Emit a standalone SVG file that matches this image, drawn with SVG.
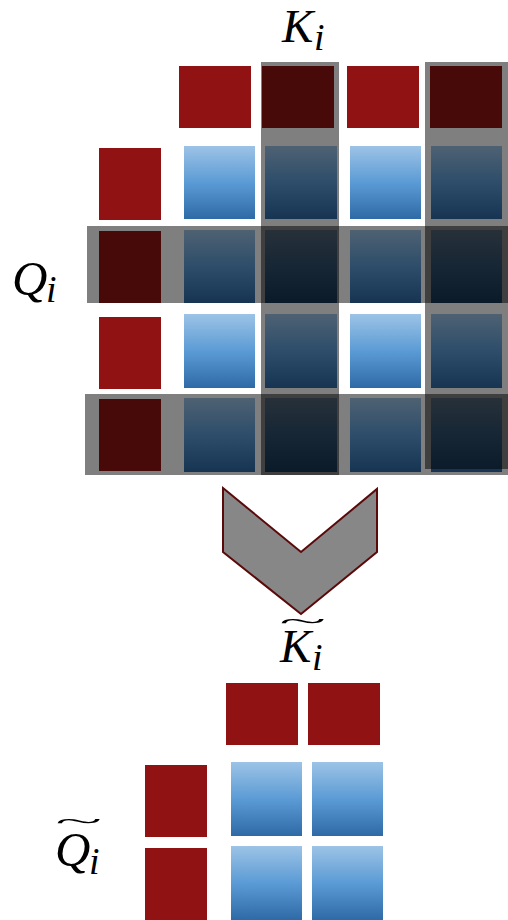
<svg xmlns="http://www.w3.org/2000/svg" width="508" height="920" viewBox="0 0 508 920">
<defs>
<linearGradient id="bl" x1="0" y1="0" x2="0" y2="1">
<stop offset="0" stop-color="#9dc3e6"/>
<stop offset="0.5" stop-color="#5b9bd5"/>
<stop offset="1" stop-color="#2e6aa6"/>
</linearGradient>
<style>
.r{fill:#911213}
.b{fill:url(#bl)}
.ov{fill:#000;fill-opacity:0.5}
.m{font-family:"Liberation Serif","DejaVu Serif",serif;font-style:italic;fill:#000}
.ar{fill:#878787;stroke:#5a0a0a;stroke-width:2;stroke-linejoin:miter}
</style>
</defs>
<rect width="508" height="920" fill="#fff"/>

<g id="K-label"><text class="m" x="282" y="42" font-size="47">K<tspan x="314" y="50" font-size="38">i</tspan></text></g>
<g id="Q-label"><text class="m" x="12" y="295" font-size="49">Q<tspan x="46" y="302" font-size="38">i</tspan></text></g>

<g id="K-row">
<rect class="r" x="179" y="66" width="72" height="62"/>
<rect class="r" x="262" y="66" width="72" height="62"/>
<rect class="r" x="347" y="66" width="72" height="62"/>
<rect class="r" x="430" y="66" width="72" height="62"/>
</g>
<g id="Q-col">
<rect class="r" x="99" y="148" width="62" height="72"/>
<rect class="r" x="99" y="231" width="62" height="72"/>
<rect class="r" x="99" y="317" width="62" height="72"/>
<rect class="r" x="99" y="399" width="62" height="72"/>
</g>
<g id="scores">
<rect class="b" x="184" y="146" width="71" height="73"/>
<rect class="b" x="265" y="146" width="72" height="73"/>
<rect class="b" x="350" y="146" width="71" height="73"/>
<rect class="b" x="431" y="146" width="71" height="73"/>
<rect class="b" x="184" y="230" width="71" height="73"/>
<rect class="b" x="265" y="230" width="72" height="73"/>
<rect class="b" x="350" y="230" width="71" height="73"/>
<rect class="b" x="431" y="230" width="71" height="73"/>
<rect class="b" x="184" y="314" width="71" height="74"/>
<rect class="b" x="265" y="314" width="72" height="74"/>
<rect class="b" x="350" y="314" width="71" height="74"/>
<rect class="b" x="431" y="314" width="71" height="74"/>
<rect class="b" x="184" y="398" width="71" height="74"/>
<rect class="b" x="265" y="398" width="72" height="74"/>
<rect class="b" x="350" y="398" width="71" height="74"/>
<rect class="b" x="431" y="398" width="71" height="74"/>
</g>
<g id="highlights">
<rect class="ov" x="261" y="62" width="78" height="413"/>
<rect class="ov" x="425" y="62" width="83" height="407"/>
<rect class="ov" x="87" y="226" width="421" height="77"/>
<rect class="ov" x="85" y="394" width="423" height="81"/>
</g>

<g id="arrow"><polygon class="ar" points="223,488 301,552 377,489 377,552 301,614 223,552"/></g>

<g id="Kt-label">
<text class="m" font-size="30" transform="translate(278,630) scale(2.9,0.9)">~</text>
<text class="m" x="280" y="662" font-size="47">K<tspan x="312" y="670" font-size="38">i</tspan></text>
</g>
<g id="Qt-label">
<text class="m" font-size="30" transform="translate(54,830) scale(2.9,0.9)">~</text>
<text class="m" x="55" y="866" font-size="49">Q<tspan x="89" y="874" font-size="38">i</tspan></text>
</g>

<g id="Kt-row">
<rect class="r" x="226" y="683" width="72" height="62"/>
<rect class="r" x="308" y="683" width="72" height="62"/>
</g>
<g id="Qt-col">
<rect class="r" x="145" y="765" width="62" height="72"/>
<rect class="r" x="145" y="848" width="62" height="72"/>
</g>
<g id="Qt-scores">
<rect class="b" x="231" y="762" width="71" height="74"/>
<rect class="b" x="312" y="762" width="71" height="74"/>
<rect class="b" x="231" y="846" width="71" height="74"/>
<rect class="b" x="312" y="846" width="71" height="74"/>
</g>
</svg>
